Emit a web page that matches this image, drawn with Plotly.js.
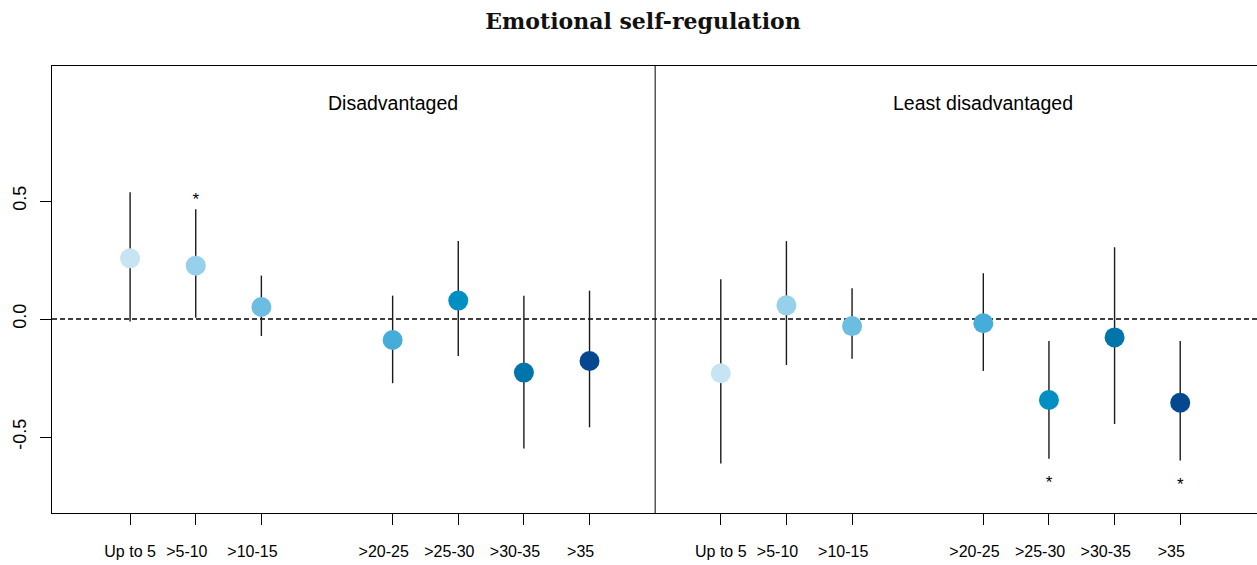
<!DOCTYPE html>
<html>
<head>
<meta charset="utf-8">
<script src="https://cdn.plot.ly/plotly-3.0.1.min.js"></script>
<style>html,body{margin:0;padding:0;background:#fff;}#chart{width:1257px;height:565px;}</style>
</head>
<body>
<div id="chart"></div>
<script>
// Categories and positions (gap where >15-20 would be)
const categories = ["Up to 5", ">5-10", ">10-15", ">20-25", ">25-30", ">30-35", ">35"];
const catPos = [1, 2, 3, 5, 6, 7, 8];
const panelOffset = 9;
const panels = ["Disadvantaged", "Least disadvantaged"];
const colors = ["#c7e4f3", "#97d0ea", "#6bbde2", "#46addb", "#008fc2", "#0075a9", "#05488f"];

// Disadvantaged
const estDis = [0.257, 0.226, 0.051, -0.089, 0.078, -0.227, -0.178];
const loDis  = [-0.011, 0.005, -0.072, -0.272, -0.157, -0.549, -0.459];
const hiDis  = [0.537, 0.465, 0.184, 0.099, 0.330, 0.099, 0.120];
const sigDis = [0, 1, 0, 0, 0, 0, 0];

// Least disadvantaged
const estLeast = [-0.230, 0.058, -0.030, -0.018, -0.343, -0.078, -0.355];
const loLeast  = [-0.612, -0.195, -0.168, -0.220, -0.592, -0.445, -0.600];
const hiLeast  = [0.168, 0.330, 0.130, 0.194, -0.093, 0.304, -0.093];
const sigLeast = [0, 0, 0, 0, 1, 0, 1];

const sets = [
  {est: estDis, lo: loDis, hi: hiDis, sig: sigDis, off: 0},
  {est: estLeast, lo: loLeast, hi: hiLeast, sig: sigLeast, off: panelOffset}
];

// labels starting with ">" sit slightly left of their tick in the original
const pad = s => s.charAt(0) === ">" ? s + "\u00a0\u00a0\u00a0\u00a0" : s;

const traces = [];
const tickvals = [], ticktext = [];
sets.forEach(s => {
  const xs = catPos.map(p => p + s.off);
  xs.forEach((x, i) => { tickvals.push(x); ticktext.push(pad(categories[i])); });
  traces.push({
    type: "scatter", mode: "markers", x: xs, y: s.est,
    marker: {size: 20, color: colors, line: {width: 0}},
    error_y: {type: "data", symmetric: false,
      array: s.hi.map((h, i) => h - s.est[i]),
      arrayminus: s.est.map((e, i) => e - s.lo[i]),
      color: "#1a1a1a", thickness: 1.4, width: 0},
    hoverinfo: "x+y", showlegend: false
  });
  const sx = [], sy = [];
  s.sig.forEach((g, i) => {
    if (g) {
      sx.push(xs[i]);
      sy.push(s.est[i] > 0 ? s.hi[i] + 0.035 : s.lo[i] - 0.105);
    }
  });
  traces.push({
    type: "scatter", mode: "text", x: sx, y: sy, text: sx.map(() => "*"),
    textposition: "middle center",
    textfont: {family: "Liberation Sans, Arial, sans-serif", size: 17, color: "#000"},
    hoverinfo: "skip", showlegend: false
  });
});

const layout = {
  width: 1257, height: 565,
  margin: {l: 52, r: 0, t: 66, b: 52},
  paper_bgcolor: "#fff", plot_bgcolor: "#fff",
  showlegend: false,
  title: {
    text: "<b>Emotional self-regulation</b>",
    font: {family: "DejaVu Serif, serif", size: 22, color: "#111"},
    x: 643 / 1257, xref: "container", xanchor: "center",
    y: 1 - 21 / 565, yref: "container", yanchor: "middle"
  },
  xaxis: {
    range: [-0.19, 18.17], tickmode: "array", tickvals: tickvals, ticktext: ticktext,
    tickangle: 0,
    ticks: "outside", ticklen: 11, tickwidth: 1, tickcolor: "#000",
    ticklabelstandoff: 13,
    tickfont: {family: "Liberation Sans, Arial, sans-serif", size: 16, color: "#000"},
    showline: true, mirror: true, linecolor: "#000", linewidth: 1,
    showgrid: false, zeroline: false, fixedrange: true
  },
  yaxis: {
    range: [-0.822, 1.072], tickvals: [-0.5, 0, 0.5], ticktext: ["-0.5", "0.0", "0.5"],
    ticks: "outside", ticklen: 11, tickwidth: 1, tickcolor: "#000",
    tickangle: -90, ticklabelstandoff: 7,
    tickfont: {family: "Liberation Sans, Arial, sans-serif", size: 18, color: "#000"},
    showline: true, mirror: true, linecolor: "#000", linewidth: 1,
    showgrid: false, zeroline: false, fixedrange: true
  },
  shapes: [
    {type: "line", xref: "paper", x0: 0, x1: 1, yref: "y", y0: 0, y1: 0,
     line: {color: "#000", width: 1.3, dash: "5px,3px"}, layer: "below"},
    {type: "line", xref: "x", x0: panelOffset, x1: panelOffset, yref: "paper", y0: 0, y1: 1,
     line: {color: "#000", width: 1}}
  ],
  annotations: panels.map((p, i) => ({
    text: p, x: 5 + i * panelOffset, y: 0.915, xref: "x", yref: "y",
    showarrow: false, xanchor: "center", yanchor: "middle",
    font: {family: "Liberation Sans, Arial, sans-serif", size: 19.5, color: "#000"}
  }))
};

Plotly.newPlot("chart", traces, layout, {displayModeBar: false, staticPlot: true});
</script>
</body>
</html>
